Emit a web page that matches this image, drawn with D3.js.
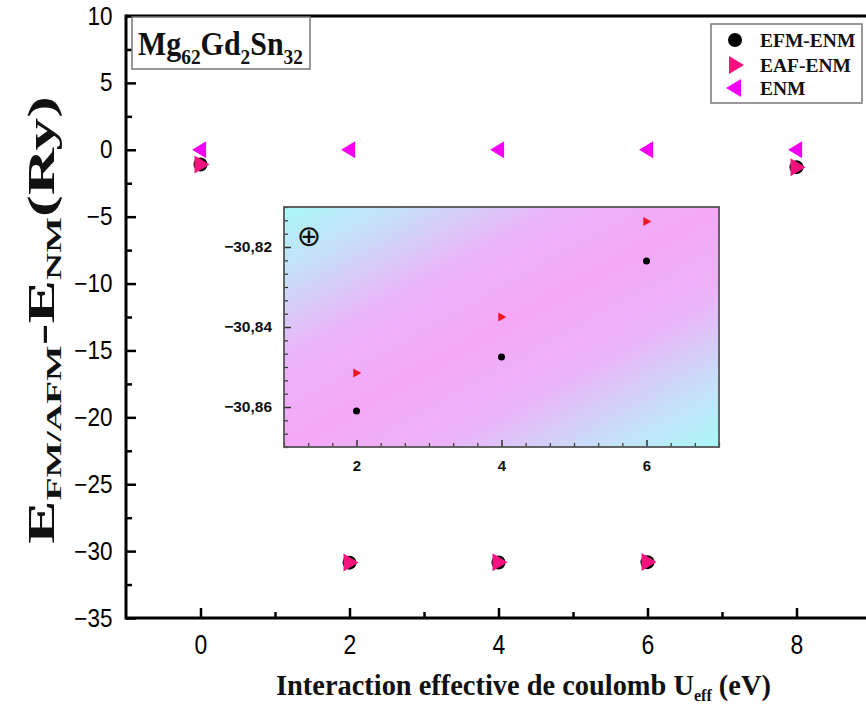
<!DOCTYPE html>
<html>
<head>
<meta charset="utf-8">
<script src="https://cdn.jsdelivr.net/npm/d3@7"></script>
<style>
  html, body { margin: 0; padding: 0; background: #fff; }
  svg { display: block; }
</style>
</head>
<body>
<svg id="chart" width="866" height="709"></svg>
<script>
// ---------- DATA ----------
const uValues = [0, 2, 4, 6, 8];
const efmEnm  = [-1.1, -30.861, -30.8475, -30.8235, -1.3];
const eafEnm  = [-1.1, -30.8515, -30.8375, -30.8136, -1.3];
const enm     = [0, 0, 0, 0, 0];
const seriesNames = ["EFM-ENM", "EAF-ENM", "ENM"];

const xMajorTicks = [0, 2, 4, 6, 8];
const xMinorTicks = [1, 3, 5, 7];
const yMajorTicks = [10, 5, 0, -5, -10, -15, -20, -25, -30, -35];
const yMinorTicks = [7.5, 2.5, -2.5, -7.5, -12.5, -17.5, -22.5, -27.5, -32.5];

const insetXTicks = [2, 4, 6];
const insetYTicks = [-30.82, -30.84, -30.86];

// ---------- SETUP ----------
const svg = d3.select("#chart");
const SERIF = "'Liberation Serif','Times New Roman',serif";
const SANS = "'Liberation Sans',Arial,sans-serif";
const colEFM = "#000000", colEAF = "#F5127F", colENM = "#F200F2", colInsetEAF = "#F21420";

svg.append("rect").attr("width", 866).attr("height", 709).attr("fill", "#fff");

const x = d3.scaleLinear().domain([-1, 9]).range([126, 871]);
const y = d3.scaleLinear().domain([-35, 10]).range([618, 16]);

function fitX(sel, target) {
  const w = sel.node().getBBox().width;
  return target / w;
}

// ---------- MAIN AXES ----------
const gAx = svg.append("g");
const xAxis = gAx.append("g").attr("transform", `translate(0,${y(-35)})`)
  .call(d3.axisBottom(x).tickValues(xMajorTicks).tickSize(-10).tickPadding(17).tickFormat(d3.format("d")));
xAxis.select(".domain").remove();
xAxis.selectAll("line").attr("stroke-width", 2.5);
xAxis.selectAll("text").attr("font-family", SANS).attr("font-size", 27).attr("fill", "#000")
  .attr("transform", "scale(0.85,1)");
gAx.append("g").attr("transform", `translate(0,${y(-35)})`)
  .call(d3.axisBottom(x).tickValues(xMinorTicks).tickSize(-6).tickFormat(""))
  .call(g => g.select(".domain").remove())
  .selectAll("line").attr("stroke-width", 2.5);

const yAxis = gAx.append("g").attr("transform", `translate(${x(-1)},0)`)
  .call(d3.axisLeft(y).tickValues(yMajorTicks).tickSize(-10).tickPadding(15).tickFormat(d3.format("d")));
yAxis.select(".domain").remove();
yAxis.selectAll("line").attr("stroke-width", 2.5);
yAxis.selectAll("text").attr("font-family", SANS).attr("font-size", 25).attr("fill", "#000")
  .attr("transform", "scale(0.9,1)");
gAx.append("g").attr("transform", `translate(${x(-1)},0)`)
  .call(d3.axisLeft(y).tickValues(yMinorTicks).tickSize(-6).tickFormat(""))
  .call(g => g.select(".domain").remove())
  .selectAll("line").attr("stroke-width", 2.5);

gAx.append("line").attr("x1", x(-1)).attr("x2", x(9)).attr("y1", y(-35)).attr("y2", y(-35))
  .attr("stroke", "#000").attr("stroke-width", 3);
gAx.append("line").attr("x1", x(-1)).attr("x2", x(9)).attr("y1", y(10)).attr("y2", y(10))
  .attr("stroke", "#000").attr("stroke-width", 3);
gAx.append("line").attr("x1", x(-1)).attr("x2", x(-1)).attr("y1", y(10) - 1.5).attr("y2", y(-35) + 1.5)
  .attr("stroke", "#000").attr("stroke-width", 3);

// ---------- MARKERS ----------
const triRight = (w, h) => `M${-w * 0.4},${-h / 2}L${w * 0.6},0L${-w * 0.4},${h / 2}Z`;
const triLeft  = (w, h) => `M${w * 0.4},${-h / 2}L${-w * 0.6},0L${w * 0.4},${h / 2}Z`;

const gMain = svg.append("g");
gMain.selectAll(".enm").data(uValues.map((u, i) => [u, enm[i]])).join("path")
  .attr("d", triLeft(14, 17)).attr("fill", colENM)
  .attr("transform", d => `translate(${x(d[0])},${y(d[1])})`);
gMain.selectAll(".efm").data(uValues.map((u, i) => [u, efmEnm[i]])).join("circle")
  .attr("cx", d => x(d[0])).attr("cy", d => y(d[1])).attr("r", 7).attr("fill", colEFM);
gMain.selectAll(".eaf").data(uValues.map((u, i) => [u, eafEnm[i]])).join("path")
  .attr("d", triRight(15, 18)).attr("fill", colEAF)
  .attr("transform", d => `translate(${x(d[0])},${y(d[1])})`);

// ---------- LABEL BOX ----------
svg.append("rect").attr("x", 132).attr("y", 17).attr("width", 178).attr("height", 52)
  .attr("fill", "#fff").attr("stroke", "#777").attr("stroke-width", 1.5);
const comp = svg.append("text").attr("font-family", SERIF).attr("font-weight", "bold")
  .attr("font-size", 34).attr("fill", "#111");
const compParts = [["Mg", 0], ["62", 1], ["Gd", 0], ["2", 1], ["Sn", 0], ["32", 1]];
let prev = 0;
compParts.forEach(([t, sub]) => {
  const dy = sub ? 9 : 0;
  comp.append("tspan").attr("dy", dy - prev).attr("font-size", sub ? 22 : 34).text(t);
  prev = dy;
});
{
  const s = fitX(comp, 165);
  comp.attr("transform", `translate(138,55) scale(${s},1)`);
}

// ---------- LEGEND ----------
const leg = svg.append("g");
leg.append("rect").attr("x", 711).attr("y", 24).attr("width", 151).attr("height", 79)
  .attr("fill", "#fff").attr("stroke", "#777").attr("stroke-width", 1.5);
const legY = [40, 65, 88];
leg.append("circle").attr("cx", 735).attr("cy", legY[0]).attr("r", 7).attr("fill", colEFM);
leg.append("path").attr("d", triRight(15, 18)).attr("fill", colEAF).attr("transform", `translate(735,${legY[1]})`);
leg.append("path").attr("d", triLeft(15, 18)).attr("fill", colENM).attr("transform", `translate(735,${legY[2]})`);
seriesNames.forEach((n, i) => {
  leg.append("text").attr("x", 760).attr("y", legY[i] + 7).attr("font-family", SERIF)
    .attr("font-weight", "bold").attr("font-size", 19.5).attr("fill", "#111").text(n);
});

// ---------- INSET ----------
const ix = d3.scaleLinear().domain([1, 7]).range([284, 719]);
const iy = d3.scaleLinear().domain([-30.87, -30.81]).range([447, 207]);
const defs = svg.append("defs");
const grad = defs.append("linearGradient").attr("id", "ig").attr("x1", 0).attr("y1", 0).attr("x2", 1).attr("y2", 1);
[[0, "#A9F8F8"], [0.14, "#C6E0F8"], [0.32, "#EBB4F8"], [0.5, "#F4A8F8"], [0.68, "#EBB4F8"], [0.86, "#C6E0F8"], [1, "#A9F8F8"]]
  .forEach(([o, c]) => grad.append("stop").attr("offset", o).attr("stop-color", c));
const gI = svg.append("g");
gI.append("rect").attr("x", ix(1)).attr("y", iy(-30.81)).attr("width", ix(7) - ix(1))
  .attr("height", iy(-30.87) - iy(-30.81)).attr("fill", "url(#ig)");

const insetMinorX = d3.range(1, 7.001, 1 / 3).filter(v => !insetXTicks.some(t => Math.abs(t - v) < 1e-6));
const insetMinorY = d3.range(-30.87, -30.8099, 0.02 / 6).filter(v => !insetYTicks.some(t => Math.abs(t - v) < 1e-6));

const ixAxis = gI.append("g").attr("transform", `translate(0,${iy(-30.87)})`)
  .call(d3.axisBottom(ix).tickValues(insetXTicks).tickSize(-7).tickPadding(13).tickFormat(d3.format("d")));
ixAxis.select(".domain").remove();
ixAxis.selectAll("line").attr("stroke", "#333").attr("stroke-width", 1.5);
ixAxis.selectAll("text").attr("font-family", SANS).attr("font-weight", "bold").attr("font-size", 15).attr("fill", "#111");
gI.append("g").attr("transform", `translate(0,${iy(-30.87)})`)
  .call(d3.axisBottom(ix).tickValues(insetMinorX).tickSize(-4).tickFormat(""))
  .call(g => g.select(".domain").remove())
  .selectAll("line").attr("stroke", "#333").attr("stroke-width", 1.2);

const fmtComma = v => d3.format(".2f")(v).replace(".", ",");
const iyAxis = gI.append("g").attr("transform", `translate(${ix(1)},0)`)
  .call(d3.axisLeft(iy).tickValues(insetYTicks).tickSize(-7).tickPadding(12).tickFormat(fmtComma));
iyAxis.select(".domain").remove();
iyAxis.selectAll("line").attr("stroke", "#333").attr("stroke-width", 1.5);
iyAxis.selectAll("text").attr("font-family", SANS).attr("font-weight", "bold").attr("font-size", 15.5).attr("fill", "#111");
gI.append("g").attr("transform", `translate(${ix(1)},0)`)
  .call(d3.axisLeft(iy).tickValues(insetMinorY).tickSize(-4).tickFormat(""))
  .call(g => g.select(".domain").remove())
  .selectAll("line").attr("stroke", "#333").attr("stroke-width", 1.2);

gI.append("rect").attr("x", ix(1)).attr("y", iy(-30.81)).attr("width", ix(7) - ix(1))
  .attr("height", iy(-30.87) - iy(-30.81)).attr("fill", "none").attr("stroke", "#555").attr("stroke-width", 1.8);

const insetIdx = uValues.map((u, i) => i).filter(i => uValues[i] >= 1 && uValues[i] <= 7);
gI.selectAll(".iefm").data(insetIdx).join("circle")
  .attr("cx", i => ix(uValues[i])).attr("cy", i => iy(efmEnm[i])).attr("r", 3.5).attr("fill", colEFM);
gI.selectAll(".ieaf").data(insetIdx).join("path")
  .attr("d", triRight(8, 9)).attr("fill", colInsetEAF)
  .attr("transform", i => `translate(${ix(uValues[i])},${iy(eafEnm[i])})`);

gI.append("text").attr("x", 309).attr("y", 246).attr("text-anchor", "middle")
  .attr("font-family", "'DejaVu Sans',sans-serif").attr("font-size", 29).attr("fill", "#111").text("⊕");

// ---------- AXIS TITLES ----------
const xt = svg.append("text").attr("font-family", SERIF).attr("font-weight", "bold")
  .attr("font-size", 30).attr("fill", "#111").attr("text-anchor", "start");
xt.append("tspan").text("Interaction effective de coulomb U");
xt.append("tspan").attr("font-size", 17).attr("dy", 6).text("eff");
xt.append("tspan").attr("dy", -6).text(" (eV)");
{
  const s = fitX(xt, 495);
  xt.attr("transform", `translate(276,695) scale(${s},1)`);
}

const yt = svg.append("text").attr("font-family", SERIF).attr("font-weight", "bold")
  .attr("font-size", 38).attr("fill", "#111").attr("text-anchor", "start");
yt.append("tspan").text("E");
yt.append("tspan").attr("font-size", 22).attr("dy", 7).text("FM/AFM");
yt.append("tspan").attr("dy", -7).text("-E");
yt.append("tspan").attr("font-size", 22).attr("dy", 7).text("NM");
yt.append("tspan").attr("dy", -7).text("(Ry)");
{
  const s = fitX(yt, 448);
  yt.attr("transform", `translate(54,544) rotate(-90) scale(${s},1)`);
}
</script>
</body>
</html>
